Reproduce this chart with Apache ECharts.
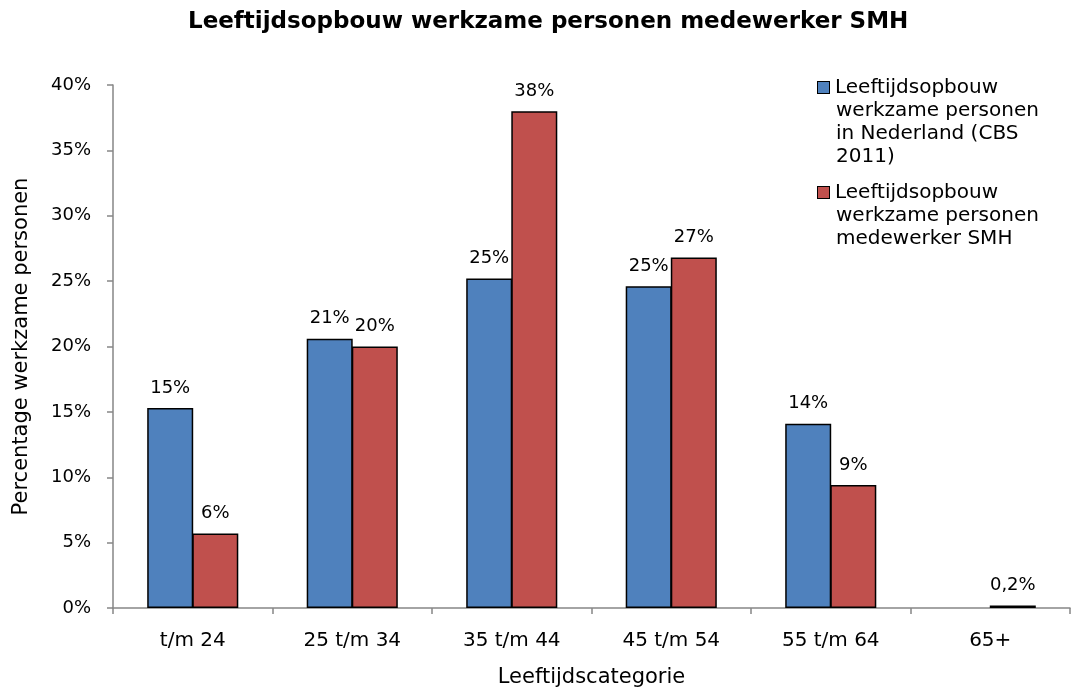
<!DOCTYPE html>
<html>
<head>
<meta charset="utf-8">
<title>Leeftijdsopbouw</title>
<script src="https://cdn.jsdelivr.net/npm/echarts@6/dist/echarts.min.js"></script>
<style>
  html, body { margin: 0; padding: 0; background: #fff; }
  #chart { width: 1071px; height: 693px; }
</style>
</head>
<body>
<div id="chart"></div>
<script>
// categorieen en waarden (in %)
var categories = ['t/m 24', '25 t/m 34', '35 t/m 44', '45 t/m 54', '55 t/m 64', '65+'];
var cbsValues  = [15.3, 20.6, 25.2, 24.6, 14.1, null];
var smhValues  = [5.7, 20.0, 38.0, 26.8, 9.4, 0.2];
var seriesNames = [
    'Leeftijdsopbouw werkzame personen in Nederland (CBS 2011)',
    'Leeftijdsopbouw werkzame personen medewerker SMH'
];
// legenda regels zoals in het origineel afgebroken
var legendLines = [
    ['Leeftijdsopbouw', 'werkzame personen', 'in Nederland (CBS', '2011)'],
    ['Leeftijdsopbouw', 'werkzame personen', 'medewerker SMH']
];
var yTicks = [0, 5, 10, 15, 20, 25, 30, 35, 40];

var FONT = 'DejaVu Sans';
var BLUE = '#4F81BD';
var RED  = '#C0504D';
var AXIS = '#868686';

function labelFmt(p) {
    var v = p.value;
    if (v == null) return '';
    if (v < 1) return v.toFixed(1).replace('.', ',') + '%';
    return Math.round(v) + '%';
}

function legendFmt(name) {
    var idx = seriesNames.indexOf(name);
    var sq = idx === 0 ? 'sqA' : 'sqB';
    return legendLines[idx].map(function (l, i) {
        return (i === 0 ? '{' + sq + '|}{g|}' : '{ind|}') + '{t|' + l + '}';
    }).join('\n');
}

var myChart = echarts.init(document.getElementById('chart'), null, {renderer: 'canvas'});
var option = {
    backgroundColor: '#fff',
    animation: false,
    title: {
        text: 'Leeftijdsopbouw werkzame personen medewerker SMH',
        left: 188,
        top: 11,
        padding: 0,
        textStyle: { fontFamily: FONT, fontSize: 23, fontWeight: 'bold', color: '#000' }
    },
    legend: {
        orient: 'vertical',
        left: 813,
        top: 76,
        padding: 0,
        itemGap: 13,
        icon: 'none',
        itemWidth: 0,
        itemHeight: 12,
        selectedMode: false,
        data: seriesNames,
        formatter: legendFmt,
        textStyle: {
            fontFamily: FONT, fontSize: 20, color: '#000', lineHeight: 23,
            rich: {
                t:   { fontFamily: FONT, fontSize: 20, color: '#000', lineHeight: 23 },
                sqA: { width: 11, height: 11, backgroundColor: BLUE, borderColor: '#000', borderWidth: 1 },
                sqB: { width: 11, height: 11, backgroundColor: RED, borderColor: '#000', borderWidth: 1 },
                g:   { width: 6 },
                ind: { width: 18 }
            }
        }
    },
    grid: { left: 113, right: 1, top: 85, bottom: 83, containLabel: false },
    xAxis: {
        type: 'category',
        data: categories,
        name: 'Leeftijdscategorie',
        nameLocation: 'middle',
        nameGap: 59,
        nameTextStyle: { fontFamily: FONT, fontSize: 21, color: '#000' },
        axisLine: { show: true, lineStyle: { color: AXIS, width: 1.5 } },
        axisTick: { show: true, length: 6, lineStyle: { color: AXIS, width: 1.5 } },
        axisLabel: { margin: 23, fontFamily: FONT, fontSize: 20, color: '#000' }
    },
    yAxis: {
        type: 'value',
        min: yTicks[0],
        max: yTicks[yTicks.length - 1],
        interval: 5,
        name: 'Percentage werkzame personen',
        nameLocation: 'middle',
        nameGap: 81,
        nameTextStyle: { fontFamily: FONT, fontSize: 21, color: '#000' },
        splitLine: { show: false },
        axisLine: { show: true, lineStyle: { color: AXIS, width: 1.5 } },
        axisTick: { show: true, length: 6, lineStyle: { color: AXIS, width: 1.5 } },
        axisLabel: { margin: 22, formatter: '{value}%', fontFamily: FONT, fontSize: 18, color: '#000' }
    },
    series: [{
        name: seriesNames[0],
        type: 'bar',
        data: cbsValues,
        barWidth: 46,
        barGap: '-2%',
        itemStyle: { color: BLUE, borderColor: '#000', borderWidth: 1.5 },
        label: { show: true, position: 'top', distance: 11, formatter: labelFmt,
                 fontFamily: FONT, fontSize: 18, color: '#000' }
    }, {
        name: seriesNames[1],
        type: 'bar',
        data: smhValues,
        barWidth: 46,
        barGap: '-2%',
        itemStyle: { color: RED, borderColor: '#000', borderWidth: 1.5 },
        label: { show: true, position: 'top', distance: 11, formatter: labelFmt,
                 fontFamily: FONT, fontSize: 18, color: '#000' }
    }]
};
myChart.setOption(option);
</script>
</body>
</html>
